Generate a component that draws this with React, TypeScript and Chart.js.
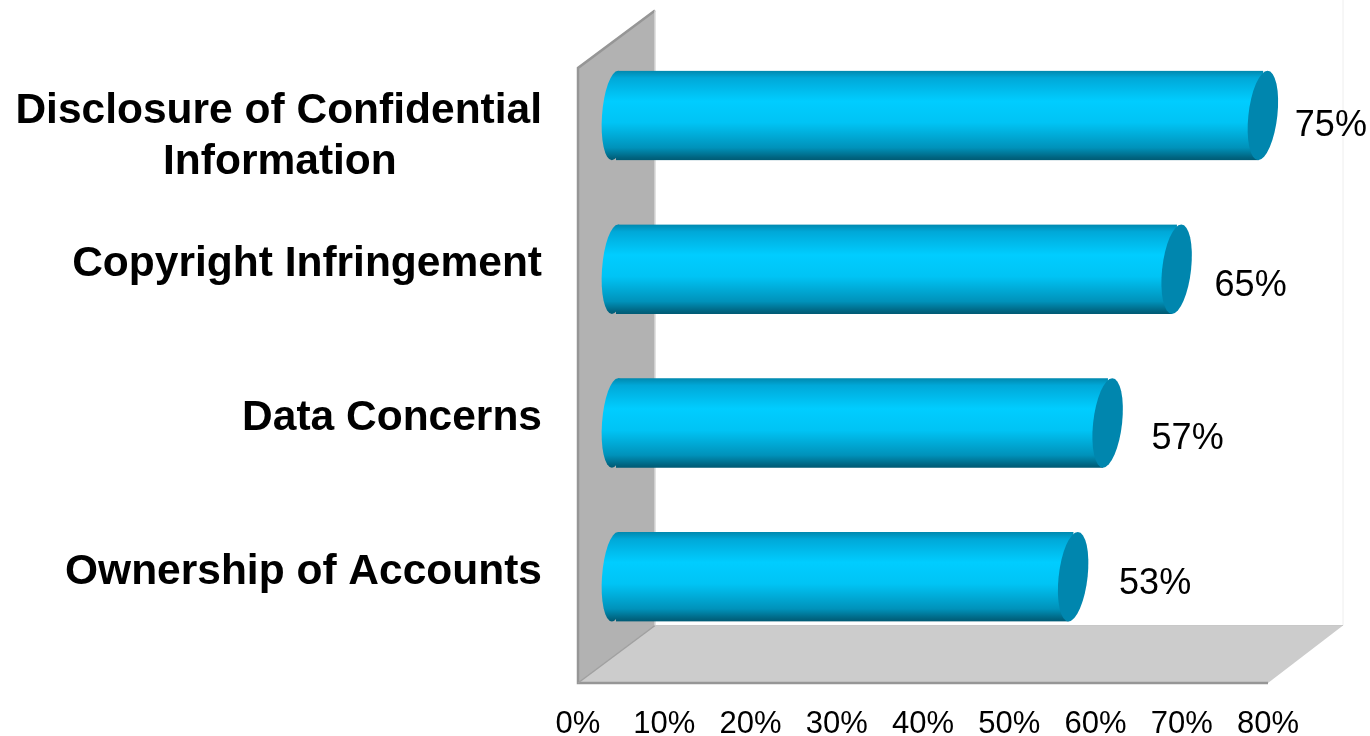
import React, { useEffect, useRef } from "react";
import { Chart, registerables } from "chart.js";

Chart.register(...registerables);

const categories = ["Disclosure of Confidential Information", "Copyright Infringement", "Data Concerns", "Ownership of Accounts"];
const values = [75, 65, 57, 53];
const xTicksMax = 80;
const xTickStep = 10;

const FONT = '"Liberation Sans", Arial, sans-serif';
const DEPTH_X = 77;
const DEPTH_Y = 57.5;
const BAR_SHIFT_X = 38;
const BAR_SHIFT_Y = -29.4;
const BAR_THICKNESS = 89.5;
const CAP_SKEW = -0.105;
const BASE_SKEW = -0.07;
// label placement relative to the bar end, one pair per bar
const labelNudgeX = [68, 74, 80, 82];
const labelNudgeY = [10.5, 17, 16, 7];

function barGradient(ctx: CanvasRenderingContext2D, cy: number) {
  const h = BAR_THICKNESS / 2;
  const g = ctx.createLinearGradient(0, cy - h, 0, cy + h);
  g.addColorStop(0, "#0088AE");
  g.addColorStop(0.08, "#00A8D8");
  g.addColorStop(0.34, "#00CDFF");
  g.addColorStop(0.58, "#00C4F5");
  g.addColorStop(0.86, "#0092BA");
  g.addColorStop(0.97, "#006480");
  g.addColorStop(1, "#005A74");
  return g;
}

function skewedEllipse(ctx: CanvasRenderingContext2D, cx: number, cy: number, rx: number, ry: number, k: number) {
  ctx.save();
  ctx.transform(1, 0, k, 1, cx, cy);
  ctx.beginPath();
  ctx.ellipse(0, 0, rx, ry, 0, 0, Math.PI * 2);
  ctx.restore();
}

function poly(ctx: CanvasRenderingContext2D, pts: number[][], fill: string) {
  ctx.beginPath();
  pts.forEach(([x, y], i) => (i ? ctx.lineTo(x, y) : ctx.moveTo(x, y)));
  ctx.closePath();
  ctx.fillStyle = fill;
  ctx.fill();
}

const scenePlugin = {
  id: "scene3d",
  beforeDatasetsDraw(chart: any) {
    const { ctx, chartArea: a } = chart;
    const { left: l, right: r, top: t, bottom: b } = a;
    ctx.save();
    // back wall trace
    ctx.strokeStyle = "#EEEEEE";
    ctx.lineWidth = 1;
    ctx.beginPath();
    ctx.moveTo(r + DEPTH_X - 2, 0);
    ctx.lineTo(r + DEPTH_X - 2, b - DEPTH_Y);
    ctx.stroke();
    // floor
    poly(ctx, [[l, b], [r, b], [r + DEPTH_X - 2, b - DEPTH_Y], [l + DEPTH_X, b - DEPTH_Y]], "#CCCCCC");
    ctx.strokeStyle = "#C8C8C8";
    ctx.beginPath();
    ctx.moveTo(l + DEPTH_X, b - DEPTH_Y);
    ctx.lineTo(r + DEPTH_X - 2, b - DEPTH_Y);
    ctx.stroke();
    // side wall
    poly(ctx, [[l, t], [l + DEPTH_X, t - DEPTH_Y], [l + DEPTH_X, b - DEPTH_Y], [l, b]], "#B2B2B2");
    ctx.strokeStyle = "#969696";
    ctx.lineWidth = 2.5;
    ctx.beginPath();
    ctx.moveTo(l + DEPTH_X, t - DEPTH_Y);
    ctx.lineTo(l, t);
    ctx.lineTo(l, b);
    ctx.lineTo(r, b);
    ctx.stroke();
    ctx.lineWidth = 1.5;
    ctx.strokeStyle = "#A0A0A0";
    ctx.beginPath();
    ctx.moveTo(l, b);
    ctx.lineTo(l + DEPTH_X, b - DEPTH_Y);
    ctx.stroke();
    ctx.strokeStyle = "#D8D8D8";
    ctx.beginPath();
    ctx.moveTo(l + DEPTH_X, t - DEPTH_Y);
    ctx.lineTo(l + DEPTH_X, b - DEPTH_Y);
    ctx.stroke();
    ctx.restore();
    // bars are drawn by the library, moved to the middle of the depth
    ctx.save();
    ctx.translate(BAR_SHIFT_X, BAR_SHIFT_Y);
    const els = chart.getDatasetMeta(0).data;
    els.forEach((el: any) => {
      ctx.fillStyle = barGradient(ctx, el.y);
      skewedEllipse(ctx, el.base - 1, el.y, 13, BAR_THICKNESS / 2, BASE_SKEW);
      ctx.fill();
    });
    // the bar ends lean with the caps
    ctx.save();
    ctx.beginPath();
    const h = BAR_THICKNESS / 2;
    els.forEach((el: any) => {
      const d = -CAP_SKEW * h;
      const e = -BASE_SKEW * h;
      ctx.moveTo(el.base - 1 + e, el.y - h);
      ctx.lineTo(el.x + d, el.y - h);
      ctx.lineTo(el.x - d, el.y + h);
      ctx.lineTo(el.base - 1 - e, el.y + h);
      ctx.closePath();
    });
    ctx.clip();
  },
  afterDatasetsDraw(chart: any) {
    const { ctx } = chart;
    ctx.restore();
    chart.getDatasetMeta(0).data.forEach((el: any) => {
      ctx.fillStyle = "#0086AE";
      skewedEllipse(ctx, el.x, el.y, 14.5, BAR_THICKNESS / 2, CAP_SKEW);
      ctx.fill();
    });
    ctx.restore();
    ctx.save();
    ctx.font = `36px ${FONT}`;
    ctx.fillStyle = "#000000";
    ctx.textAlign = "center";
    ctx.textBaseline = "middle";
    chart.getDatasetMeta(0).data.forEach((el: any, i: number) => {
      ctx.fillText(`${values[i]}%`, el.x + BAR_SHIFT_X + labelNudgeX[i], el.y + BAR_SHIFT_Y + labelNudgeY[i]);
    });
    ctx.restore();
  },
};

export default function App() {
  const ref = useRef<HTMLCanvasElement>(null);
  useEffect(() => {
    const chart = new Chart(ref.current as HTMLCanvasElement, {
      type: "bar",
      data: {
        labels: categories,
        datasets: [
          {
            data: values,
            barThickness: BAR_THICKNESS,
            borderWidth: 0,
            backgroundColor: (c: any) => {
              const yScale = c.chart.scales.y;
              const cy = yScale ? yScale.getPixelForTick(c.dataIndex) : NaN;
              if (!Number.isFinite(cy)) return "#00CCFF";
              return barGradient(c.chart.ctx, cy);
            },
          },
        ],
      },
      options: {
        indexAxis: "y",
        responsive: false,
        animation: false,
        devicePixelRatio: 1,
        layout: { autoPadding: false, padding: { top: 68, right: 102, left: 0, bottom: 0 } },
        plugins: { legend: { display: false }, tooltip: { enabled: false } },
        scales: {
          x: {
            type: "linear",
            min: 0,
            max: xTicksMax,
            afterFit: (s: any) => {
              s.height = 53;
              s.paddingLeft = 0;
              s.paddingRight = 0;
            },
            grid: { display: false },
            border: { display: false },
            ticks: {
              stepSize: xTickStep,
              padding: 15,
              maxRotation: 0,
              autoSkip: false,
              color: "#000000",
              font: { family: FONT, size: 31 },
              callback: (v: any) => `${v}%`,
            },
          },
          y: {
            type: "category",
            afterFit: (s: any) => {
              s.width = 578;
              s.paddingTop = 0;
              s.paddingBottom = 0;
            },
            grid: { display: false, drawTicks: false },
            border: { display: false },
            ticks: {
              padding: 36,
              autoSkip: false,
              labelOffset: -34,
              color: "#000000",
              font: { family: FONT, size: 42.5, weight: "bold", lineHeight: 1.2 },
              callback: (_v: any, i: number) =>
                i === 0
                  ? ["", "Disclosure of Confidential", "Information" + " ".repeat(12) + "\u200A"]
                  : categories[i],
            },
          },
        },
      } as any,
      plugins: [scenePlugin as any],
    });
    return () => chart.destroy();
  }, []);
  return (
    <div style={{ position: "absolute", left: 0, top: 0, width: 1370, height: 736, background: "#FFFFFF" }}>
      <canvas ref={ref} width={1370} height={736} style={{ display: "block" }} />
    </div>
  );
}
